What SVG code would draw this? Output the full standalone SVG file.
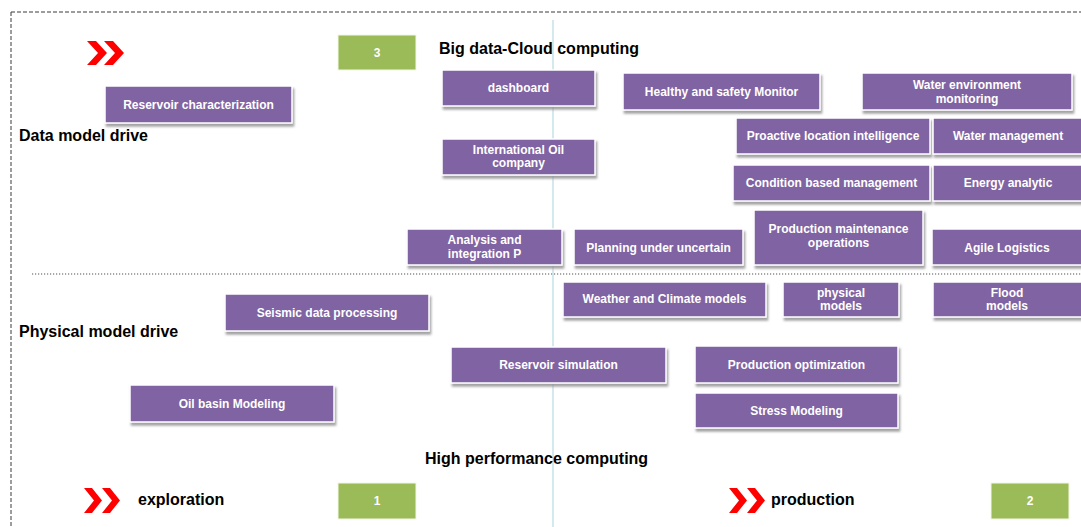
<svg xmlns="http://www.w3.org/2000/svg" width="1081" height="527" viewBox="0 0 1081 527">
<style>
.box{fill:#8064A2;stroke:#ffffff;stroke-width:1.5;filter:url(#sh)}
.grn{fill:#9BBB59;stroke:#f2f7e6;stroke-width:1}
.bt{font-family:"Liberation Sans",Arial,sans-serif;font-weight:bold;font-size:12px;fill:#ffffff;text-anchor:middle}
.ttl{font-family:"Liberation Sans",Arial,sans-serif;font-weight:bold;font-size:16px;fill:#000000}
.chev{fill:#FF0000}
</style>
<defs>
<filter id="sh" x="-10%" y="-20%" width="130%" height="160%">
<feDropShadow dx="1.5" dy="3" stdDeviation="1" flood-color="#8c8c8c" flood-opacity="0.8"/>
</filter>
</defs>
<rect width="1081" height="527" fill="#ffffff"/>
<g id="frame" fill="none">
<path d="M11 12 H1081 M11 12 V527" stroke="#3a3a3a" stroke-width="1" stroke-dasharray="4 2"/>
<path d="M32 274 H1081" stroke="#8a8a8a" stroke-width="1.3" stroke-dasharray="1.2 1.8"/>
<path d="M553 20 V527" stroke="#a9d3dc" stroke-width="1"/>
</g>
<g id="connectors"></g>
<g id="labels">
<text class="ttl" x="439" y="54">Big data-Cloud computing</text>
<text class="ttl" x="19" y="141">Data model drive</text>
<text class="ttl" x="19" y="337">Physical model drive</text>
<text class="ttl" x="425" y="464">High performance computing</text>
<text class="ttl" x="138" y="505">exploration</text>
<text class="ttl" x="771" y="505">production</text>
</g>
<g id="chevrons">
<polygon class="chev" points="87,41 96,41 107,53 96,65 87,65 98,53"/>
<polygon class="chev" points="104,41 113,41 124,53 113,65 104,65 115,53"/>
<polygon class="chev" points="84,488 92,488 102,500.5 92,513 84,513 94,500.5"/>
<polygon class="chev" points="102,488 110,488 120,500.5 110,513 102,513 112,500.5"/>
<polygon class="chev" points="729,488 737,488 747,500.5 737,513 729,513 739,500.5"/>
<polygon class="chev" points="747,488 755,488 765,500.5 755,513 747,513 757,500.5"/>
</g>
<g id="n3"><rect class="grn" x="338" y="35" width="78" height="35"/><text class="bt" x="377" y="57">3</text></g>
<g id="n1"><rect class="grn" x="338" y="483" width="78" height="36"/><text class="bt" x="377" y="505">1</text></g>
<g id="n2"><rect class="grn" x="991" y="483" width="78" height="36"/><text class="bt" x="1030" y="505">2</text></g>
<g id="reservoir-characterization"><rect class="box" x="105" y="86" width="187" height="37"/><text class="bt" x="198.5" y="108.5">Reservoir characterization</text></g>
<g id="dashboard"><rect class="box" x="442" y="70" width="153" height="36"/><text class="bt" x="518.5" y="92">dashboard</text></g>
<g id="international-oil"><rect class="box" x="442" y="139" width="153" height="36"/><text class="bt" x="518.5" y="154">International Oil</text><text class="bt" x="518.5" y="167">company</text></g>
<g id="healthy-safety"><rect class="box" x="623" y="73" width="197" height="37"/><text class="bt" x="721.5" y="95.5">Healthy and safety Monitor</text></g>
<g id="water-environment"><rect class="box" x="862" y="73" width="210" height="37"/><text class="bt" x="967" y="89">Water environment</text><text class="bt" x="967" y="103">monitoring</text></g>
<g id="proactive-location"><rect class="box" x="736" y="118" width="194" height="36"/><text class="bt" x="833" y="140">Proactive location intelligence</text></g>
<g id="water-management"><rect class="box" x="933" y="118" width="152" height="36"/><text class="bt" x="1008" y="140">Water management</text></g>
<g id="condition-based"><rect class="box" x="733" y="165" width="197" height="36"/><text class="bt" x="831.5" y="187">Condition based management</text></g>
<g id="energy-analytic"><rect class="box" x="933" y="165" width="152" height="36"/><text class="bt" x="1008" y="187">Energy analytic</text></g>
<g id="analysis-integration"><rect class="box" x="407" y="229" width="155" height="36"/><text class="bt" x="484.5" y="244">Analysis and</text><text class="bt" x="484.5" y="258">integration P</text></g>
<g id="planning-uncertain"><rect class="box" x="574" y="229" width="169" height="36"/><text class="bt" x="658.5" y="251.5">Planning under uncertain</text></g>
<g id="production-maintenance"><rect class="box" x="754" y="210" width="169" height="55"/><text class="bt" x="838.5" y="233">Production maintenance</text><text class="bt" x="838.5" y="247">operations</text></g>
<g id="agile-logistics"><rect class="box" x="932" y="229" width="153" height="36"/><text class="bt" x="1007" y="251.5">Agile Logistics</text></g>
<g id="weather-climate"><rect class="box" x="563" y="282" width="203" height="35"/><text class="bt" x="664.5" y="303">Weather and Climate models</text></g>
<g id="physical-models"><rect class="box" x="783" y="282" width="116" height="35"/><text class="bt" x="841" y="297">physical</text><text class="bt" x="841" y="310">models</text></g>
<g id="flood-models"><rect class="box" x="933" y="282" width="152" height="35"/><text class="bt" x="1007" y="297">Flood</text><text class="bt" x="1007" y="310">models</text></g>
<g id="seismic"><rect class="box" x="225" y="294" width="204" height="37"/><text class="bt" x="327" y="316.5">Seismic data processing</text></g>
<g id="reservoir-simulation"><rect class="box" x="451" y="347" width="215" height="36"/><text class="bt" x="558.5" y="369">Reservoir simulation</text></g>
<g id="production-optimization"><rect class="box" x="695" y="346" width="203" height="37"/><text class="bt" x="796.5" y="368.5">Production optimization</text></g>
<g id="stress-modeling"><rect class="box" x="695" y="393" width="203" height="35"/><text class="bt" x="796.5" y="414.5">Stress Modeling</text></g>
<g id="oil-basin"><rect class="box" x="130" y="385" width="204" height="37"/><text class="bt" x="232" y="407.5">Oil basin Modeling</text></g>
</svg>
